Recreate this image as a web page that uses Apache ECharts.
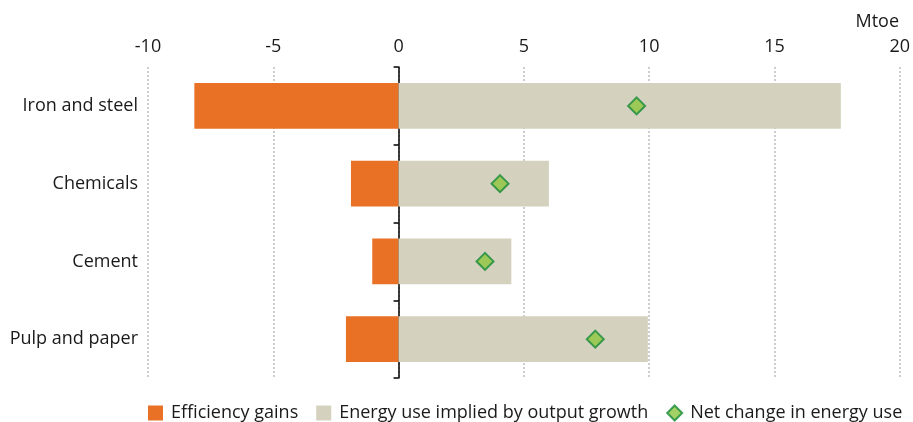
<!DOCTYPE html>
<html>
<head>
<meta charset="utf-8">
<script src="https://cdn.jsdelivr.net/npm/echarts@6/dist/echarts.min.js"></script>
<style>
  html, body { margin: 0; padding: 0; background: #fff; }
  #chart { width: 913px; height: 422px; }
</style>
</head>
<body>
<div id="chart"></div>
<script>
var categories = ['Iron and steel', 'Chemicals', 'Cement', 'Pulp and paper'];
var efficiencyGains = [-8.15, -1.9, -1.05, -2.1];
var outputGrowth = [17.65, 6.0, 4.5, 9.95];
var netChange = [9.5, 4.05, 3.45, 7.85];
var xTicks = { min: -10, max: 20, interval: 5 };

var fontFamily = '"Open Sans", Lato, sans-serif';
var textColor = '#1a1a1a';

var netData = [];
for (var i = 0; i < categories.length; i++) {
    netData.push([netChange[i], categories[i]]);
}

var myChart = echarts.init(document.getElementById('chart'));
var option = {
    animation: false,
    textStyle: { fontFamily: fontFamily, fontSize: 18, color: textColor },
    title: {
        text: 'Mtoe',
        right: 9,
        top: 8,
        textStyle: { fontFamily: fontFamily, fontSize: 18, fontWeight: 'normal', color: textColor }
    },
    grid: { left: 148, right: 13, top: 67, bottom: 44, containLabel: false },
    legend: {
        bottom: 0,
        left: 148,
        width: 765,
        padding: 0,
        itemWidth: 15,
        itemHeight: 15,
        itemGap: 18,
        textStyle: { fontFamily: fontFamily, fontSize: 18, color: textColor, padding: [0, 0, 0, 3] },
        data: [
            { name: 'Efficiency gains', icon: 'rect' },
            { name: 'Energy use implied by output growth', icon: 'rect' },
            { name: 'Net change in energy use', icon: 'diamond' }
        ]
    },
    xAxis: {
        type: 'value',
        position: 'top',
        min: xTicks.min,
        max: xTicks.max,
        interval: xTicks.interval,
        axisLine: { show: false },
        axisTick: { show: false },
        axisLabel: { margin: 11, fontSize: 18, color: textColor, fontFamily: fontFamily },
        splitLine: { show: true, lineStyle: { color: '#BDBDBD', width: 1.5, type: [2, 2] } }
    },
    yAxis: [
        {
            type: 'category',
            data: categories,
            inverse: true,
            axisLine: { show: true, onZero: true, lineStyle: { color: '#000', width: 1.5 } },
            axisTick: { show: true, length: 5, lineStyle: { color: '#000', width: 1.5 } },
            axisLabel: { show: false }
        },
        {
            type: 'category',
            data: categories,
            inverse: true,
            position: 'left',
            axisLine: { show: false, onZero: false },
            axisTick: { show: false },
            axisLabel: { margin: 10, fontSize: 18, color: textColor, fontFamily: fontFamily }
        }
    ],
    series: [
        {
            name: 'Efficiency gains',
            type: 'bar',
            stack: 'total',
            barWidth: '59%',
            itemStyle: { color: '#E87125' },
            data: efficiencyGains
        },
        {
            name: 'Energy use implied by output growth',
            type: 'bar',
            stack: 'total',
            barWidth: '59%',
            itemStyle: { color: '#D4D2BE' },
            data: outputGrowth
        },
        {
            name: 'Net change in energy use',
            type: 'scatter',
            symbol: 'diamond',
            symbolSize: 17,
            itemStyle: { color: '#8DC63F', borderColor: '#168A3A', borderWidth: 2 },
            z: 5,
            data: netData
        }
    ]
};
myChart.setOption(option);
</script>
</body>
</html>
